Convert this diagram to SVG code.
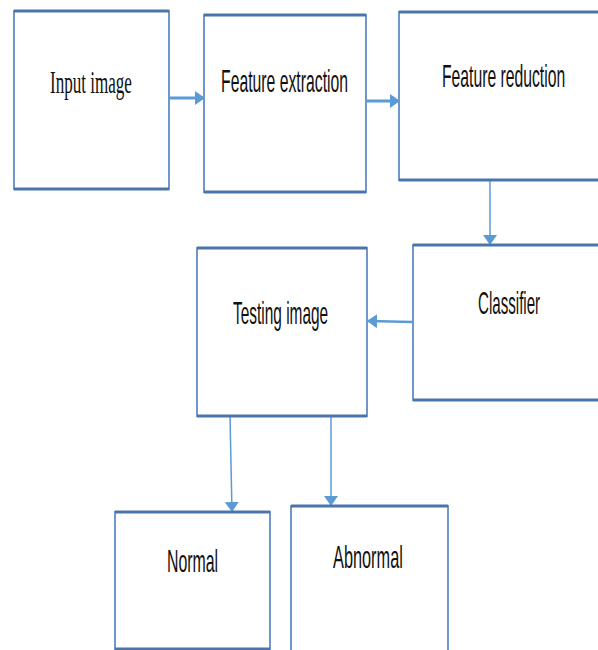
<svg xmlns="http://www.w3.org/2000/svg" width="598" height="650" viewBox="0 0 598 650">
<style>
.box{fill:#fff;stroke:#6f97c9;stroke-width:2}
.edge{stroke:#4a74aa;stroke-width:3}
.lbl{font-family:"Liberation Sans",Arial,sans-serif;font-size:32px;fill:#111}
.ser{font-family:"Liberation Serif","Times New Roman",serif;font-size:32px;fill:#111}
.con{stroke:#5b9bd5;fill:none}
</style>
<defs>
<marker id="ah2" viewBox="0 0 10 10" refX="9" refY="5" markerWidth="10" markerHeight="14" orient="auto" markerUnits="userSpaceOnUse" preserveAspectRatio="none">
<path d="M0,0 L10,5 L0,10 Z" fill="#5b9bd5"/>
</marker>
</defs>
<rect width="598" height="650" fill="#fff"/>
<g id="connectors">
<line class="con" x1="169" y1="98" x2="204" y2="98" stroke-width="3" marker-end="url(#ah2)"/>
<line class="con" x1="366" y1="101" x2="399" y2="101" stroke-width="3" marker-end="url(#ah2)"/>
<line class="con" x1="490" y1="180" x2="490" y2="244" stroke-width="1.5" marker-end="url(#ah2)"/>
<line class="con" x1="413" y1="322" x2="368" y2="321" stroke-width="2.5" marker-end="url(#ah2)"/>
<line class="con" x1="230" y1="416" x2="232" y2="511" stroke-width="1.5" marker-end="url(#ah2)"/>
<line class="con" x1="331" y1="416" x2="331" y2="505" stroke-width="1.5" marker-end="url(#ah2)"/>
</g>
<g id="input">
<rect class="box" x="14" y="11" width="155" height="178"/>
<line class="edge" x1="14" y1="11" x2="169" y2="11"/><line class="edge" x1="14" y1="189" x2="169" y2="189"/>
<text class="ser" transform="translate(50,93) scale(0.55,1)" textLength="149" lengthAdjust="spacingAndGlyphs">Input image</text>
</g>
<g id="extraction">
<rect class="box" x="204" y="15" width="162" height="177"/>
<line class="edge" x1="204" y1="15" x2="366" y2="15"/><line class="edge" x1="204" y1="192" x2="366" y2="192"/>
<text class="lbl" transform="translate(221,92) scale(0.55,1)" textLength="231" lengthAdjust="spacingAndGlyphs">Feature extraction</text>
</g>
<g id="reduction">
<path class="box" d="M599,12 H399 V180 H599"/>
<line class="edge" x1="399" y1="12" x2="598" y2="12"/><line class="edge" x1="399" y1="180" x2="598" y2="180"/>
<text class="lbl" transform="translate(442,87) scale(0.55,1)" textLength="224" lengthAdjust="spacingAndGlyphs">Feature reduction</text>
</g>
<g id="classifier">
<path class="box" d="M599,245 H413 V400 H599"/>
<line class="edge" x1="413" y1="245" x2="598" y2="245"/><line class="edge" x1="413" y1="400" x2="598" y2="400"/>
<text class="lbl" transform="translate(478,314) scale(0.55,1)" textLength="113" lengthAdjust="spacingAndGlyphs">Classifier</text>
</g>
<g id="testing">
<rect class="box" x="197" y="248" width="170" height="168"/>
<line class="edge" x1="197" y1="248" x2="367" y2="248"/><line class="edge" x1="197" y1="416" x2="367" y2="416"/>
<text class="lbl" transform="translate(233,324) scale(0.55,1)" textLength="173" lengthAdjust="spacingAndGlyphs">Testing image</text>
</g>
<g id="normal">
<path class="box" d="M115,651 V512 H270 V651"/>
<line class="edge" x1="115" y1="512" x2="270" y2="512"/><line class="edge" x1="115" y1="649" x2="270" y2="649"/>
<text class="lbl" transform="translate(167,572) scale(0.55,1)" textLength="93" lengthAdjust="spacingAndGlyphs">Normal</text>
</g>
<g id="abnormal">
<path class="box" d="M291,651 V506 H448 V651"/>
<line class="edge" x1="291" y1="506" x2="448" y2="506"/>
<text class="lbl" transform="translate(333,568) scale(0.55,1)" textLength="127" lengthAdjust="spacingAndGlyphs">Abnormal</text>
</g>
</svg>
